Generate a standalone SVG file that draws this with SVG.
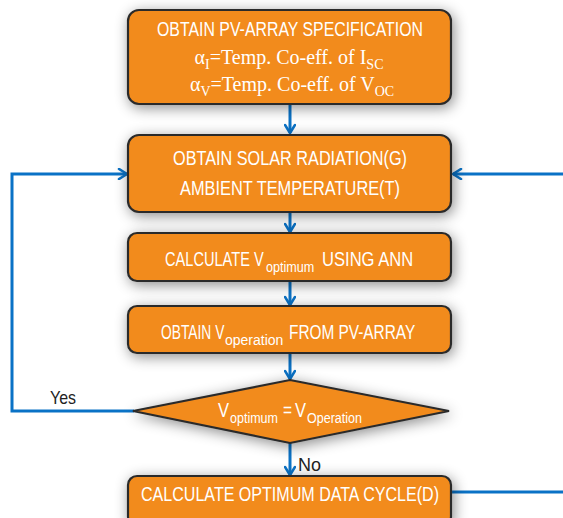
<svg xmlns="http://www.w3.org/2000/svg" width="563" height="518" viewBox="0 0 563 518">
<style>
.box{fill:#F28B1F;stroke:#2b2b2b;stroke-width:2.2}
.t{font-family:"Liberation Sans",Arial,sans-serif;fill:#fff;font-size:20px;text-anchor:middle}
.l{font-family:"Liberation Sans",Arial,sans-serif;fill:#fff;font-size:20px}
.sb{font-family:"Liberation Sans",Arial,sans-serif;fill:#fff;font-size:14px}
.s{font-family:"Liberation Serif","Times New Roman",serif;fill:#fff;font-size:20px;text-anchor:middle}
.c{fill:none;stroke:#0A72C6;stroke-width:3}
.lbl{font-family:"Liberation Sans",Arial,sans-serif;fill:#222;font-size:19px}
</style>
<defs>
<filter id="sh" x="-20%" y="-40%" width="140%" height="180%">
<feDropShadow dx="2" dy="3" stdDeviation="7" flood-color="#000" flood-opacity="0.45"/>
</filter>
<marker id="ah" viewBox="0 0 12 12" refX="10" refY="6" markerWidth="12" markerHeight="12" markerUnits="userSpaceOnUse" orient="auto">
<path d="M2,1 L10,6 L2,11" fill="none" stroke="#0A72C6" stroke-width="2.6" stroke-linecap="round" stroke-linejoin="round"/>
</marker>
</defs>
<rect width="563" height="518" fill="#fff"/>
<g id="connectors">
<path class="c" d="M290,104 V133" marker-end="url(#ah)"/>
<path class="c" d="M290,212 V232" marker-end="url(#ah)"/>
<path class="c" d="M290,281 V305" marker-end="url(#ah)"/>
<path class="c" d="M290,353 V379" marker-end="url(#ah)"/>
<path class="c" d="M290,443 V475" marker-end="url(#ah)"/>
<path class="c" d="M134,411 H12 V174 H127" marker-end="url(#ah)"/>
<path class="c" d="M451,492 H567 V174 H453" marker-end="url(#ah)"/>
</g>
<g id="n1">
<rect class="box" filter="url(#sh)" x="128" y="10" width="323" height="94" rx="11"/>
<text class="t" x="290" y="36" font-size="19" textLength="266" lengthAdjust="spacingAndGlyphs">OBTAIN PV-ARRAY SPECIFICATION</text>
<text class="s" x="289" y="64">α<tspan font-size="14" dy="5">I</tspan><tspan dy="-5">=Temp. Co-eff. of I</tspan><tspan font-size="14" dy="5">SC</tspan></text>
<text class="s" x="292" y="91">α<tspan font-size="14" dy="5">V</tspan><tspan dy="-5">=Temp. Co-eff. of V</tspan><tspan font-size="14" dy="5">OC</tspan></text>
</g>
<g id="n2">
<rect class="box" filter="url(#sh)" x="128" y="135" width="323" height="77" rx="11"/>
<text class="t" x="290" y="165" font-size="21" textLength="234" lengthAdjust="spacingAndGlyphs">OBTAIN SOLAR RADIATION(G)</text>
<text class="t" x="290" y="195" font-size="21" textLength="220" lengthAdjust="spacingAndGlyphs">AMBIENT TEMPERATURE(T)</text>
</g>
<g id="n3">
<rect class="box" filter="url(#sh)" x="128" y="233" width="323" height="48" rx="9"/>
<text class="l" transform="matrix(0.73 0 0 1 165 266)">CALCULATE V</text>
<text class="sb" transform="matrix(0.9 0 0 1 266 272)">optimum</text>
<text class="l" transform="matrix(0.83 0 0 1 322 266)">USING ANN</text>
</g>
<g id="n4">
<rect class="box" filter="url(#sh)" x="128" y="306" width="323" height="47" rx="9"/>
<text class="l" transform="matrix(0.69 0 0 1 161 339)">OBTAIN V</text>
<text class="sb" x="225" y="345">operation</text>
<text class="l" transform="matrix(0.77 0 0 1 289 339)">FROM PV-ARRAY</text>
</g>
<g id="n5">
<polygon class="box" filter="url(#sh)" points="290,380 449,411 290,443 133,411"/>
<text class="l" x="218" y="417" textLength="11" lengthAdjust="spacingAndGlyphs">V</text>
<text class="sb" x="230" y="423" textLength="48" lengthAdjust="spacingAndGlyphs">optimum</text>
<text class="l" x="283" y="417" textLength="9" lengthAdjust="spacingAndGlyphs">=</text>
<text class="l" x="295" y="417" textLength="11" lengthAdjust="spacingAndGlyphs">V</text>
<text class="sb" x="307" y="423" textLength="55" lengthAdjust="spacingAndGlyphs">Operation</text>
</g>
<g id="n6">
<rect class="box" filter="url(#sh)" x="128" y="476" width="323" height="50" rx="9"/>
<text class="t" x="290" y="501" textLength="298" lengthAdjust="spacingAndGlyphs">CALCULATE OPTIMUM DATA CYCLE(D)</text>
</g>
<g id="labels">
<text class="lbl" x="50" y="404" textLength="26" lengthAdjust="spacingAndGlyphs">Yes</text>
<text class="lbl" x="298" y="471" textLength="23" lengthAdjust="spacingAndGlyphs">No</text>
</g>
</svg>
